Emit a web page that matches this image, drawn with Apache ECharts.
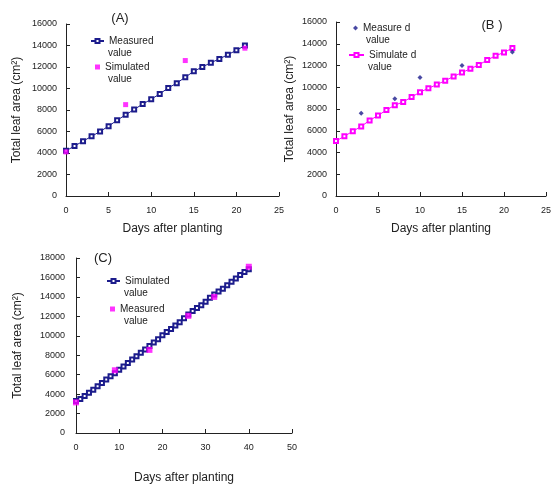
<!DOCTYPE html>
<html>
<head>
<meta charset="utf-8">
<script src="https://cdn.jsdelivr.net/npm/echarts@6/dist/echarts.min.js"></script>
<style>
  html, body { margin: 0; padding: 0; background: #fff; }
  #chart { width: 554px; height: 485px; }
</style>
</head>
<body>
<div id="chart"></div>
<script>
// panel A: days 0..21
const daysAB = [0,1,2,3,4,5,6,7,8,9,10,11,12,13,14,15,16,17,18,19,20,21]
const aMeasured = [4200,4650,5100,5550,6000,6500,7050,7550,8050,8550,9000,9500,10050,10500,11050,11600,12000,12400,12750,13150,13550,14000]
const aSimDays = [0,7,14,21]
const aSimulated = [4100,8500,12600,13750]

// panel B
const bSimulated = [5050,5500,5950,6400,6950,7400,7900,8350,8650,9100,9550,9900,10250,10600,11000,11350,11700,12050,12500,12900,13200,13600]
const bMeasDays = [3,7,10,15,21]
const bMeasured = [7600,8950,10900,12000,13250]

// panel C: days 0..40
const daysC = [0,1,2,3,4,5,6,7,8,9,10,11,12,13,14,15,16,17,18,19,20,21,22,23,24,25,26,27,28,29,30,31,32,33,34,35,36,37,38,39,40]
const cSimulated = [3300,3500,3800,4150,4450,4800,5150,5500,5850,6150,6500,6850,7200,7550,7900,8250,8600,8950,9300,9650,10050,10400,10700,11050,11400,11800,12200,12550,12850,13150,13500,13900,14250,14550,14850,15200,15550,15900,16250,16550,16850]
const cMeasDays = [0,9,17,26,32,40]
const cMeasured = [3150,6450,8550,12050,14000,17100]

const NAVY = '#1c1c8c'
const PINK = '#ff00ff'
const FONT = 'Liberation Sans, Arial, sans-serif'

const pairs = (xs, ys) => xs.map((x, i) => [x, ys[i]])

const xAxisOf = (gi, max, interval, gap) => ({
  gridIndex: gi, type: 'value', min: 0, max: max, interval: interval,
  axisLine: { show: true, lineStyle: { color: '#222', width: 1 } },
  axisTick: { show: true, inside: true, length: 4, lineStyle: { color: '#222' } },
  splitLine: { show: false },
  axisLabel: { color: '#222', fontSize: 9, margin: 10, fontFamily: FONT },
  name: 'Days after planting', nameLocation: 'middle', nameGap: gap,
  nameTextStyle: { color: '#222', fontSize: 12, fontFamily: FONT }
})

const yAxisOf = (gi, max, gap, margin) => ({
  gridIndex: gi, type: 'value', min: 0, max: max, interval: 2000,
  axisLine: { show: true, lineStyle: { color: '#222', width: 1 } },
  axisTick: { show: true, inside: true, length: 4, lineStyle: { color: '#222' } },
  splitLine: { show: false },
  axisLabel: { color: '#222', fontSize: 9, margin: margin, fontFamily: FONT, formatter: v => String(v) },
  name: 'Total leaf area (cm²)', nameLocation: 'middle', nameGap: gap, nameRotate: 90,
  nameTextStyle: { color: '#222', fontSize: 12, fontFamily: FONT }
})

const lineSeries = (name, idx, data, color) => ({
  name: name, type: 'line', xAxisIndex: idx, yAxisIndex: idx, data: data,
  symbol: 'emptyRect', symbolSize: 4, showAllSymbol: true,
  lineStyle: { color: color, width: 1 },
  itemStyle: { color: color, borderColor: color, borderWidth: 1 },
  z: 2
})

const scatterSeries = (name, idx, data, color, symbol, size) => ({
  name: name, type: 'scatter', xAxisIndex: idx, yAxisIndex: idx, data: data,
  symbol: symbol, symbolSize: size,
  itemStyle: { color: color },
  z: 3
})

// one legend per entry so each can have its own icon box
const legendOf = (left, top, name, itemWidth) => ({
  orient: 'vertical', left: left, top: top, padding: 0,
  itemWidth: itemWidth, itemHeight: 5,
  data: [name], selectedMode: false,
  formatter: n => n.split('|')[1],
  textStyle: { color: '#222', fontSize: 10, fontFamily: FONT }
})

const txt = (x, y, s, size, align) => ({
  type: 'text', x: x, y: y,
  style: { text: s, fontSize: size, fontFamily: FONT, fill: '#222', align: align || 'left', verticalAlign: 'middle' }
})

const chart = echarts.init(document.getElementById('chart'))
chart.setOption({
  animation: false,
  grid: [
    { left: 66, top: 24, width: 213, height: 172 },
    { left: 336, top: 22, width: 213, height: 174 },
    { left: 76, top: 258, width: 216, height: 176 }
  ],
  xAxis: [xAxisOf(0, 25, 5, 27), xAxisOf(1, 25, 5, 27), xAxisOf(2, 50, 10, 39)],
  yAxis: [yAxisOf(0, 16000, 43, 9), yAxisOf(1, 16000, 40, 9), yAxisOf(2, 18000, 52, 11)],
  legend: [
    legendOf(90, 36, 'A1|Measured', 13),
    legendOf(95, 62, 'A2|Simulated', 5),
    legendOf(353, 23, 'B1|Measure d', 5),
    legendOf(348, 50, 'B2|Simulate d', 15),
    legendOf(106, 276, 'C1|Simulated', 13),
    legendOf(110, 304, 'C2|Measured', 5)
  ],
  graphic: [
    txt(120, 18, '(A)', 13, 'center'),
    txt(108, 53, 'value', 10),
    txt(108, 79, 'value', 10),
    txt(492, 25, '(B )', 13, 'center'),
    txt(366, 40, 'value', 10),
    txt(368, 67, 'value', 10),
    txt(124, 293, 'value', 10),
    txt(124, 321, 'value', 10),
    txt(103, 258, '(C)', 13, 'center')
  ],
  series: [
    lineSeries('A1|Measured', 0, pairs(daysAB, aMeasured), NAVY),
    scatterSeries('A2|Simulated', 0, pairs(aSimDays, aSimulated), PINK, 'rect', 5),
    scatterSeries('B1|Measure d', 1, pairs(bMeasDays, bMeasured), NAVY, 'diamond', 5),
    lineSeries('B2|Simulate d', 1, pairs(daysAB, bSimulated), PINK),
    lineSeries('C1|Simulated', 2, pairs(daysC, cSimulated), NAVY),
    scatterSeries('C2|Measured', 2, pairs(cMeasDays, cMeasured), PINK, 'rect', 6)
  ]
})
</script>
</body>
</html>
